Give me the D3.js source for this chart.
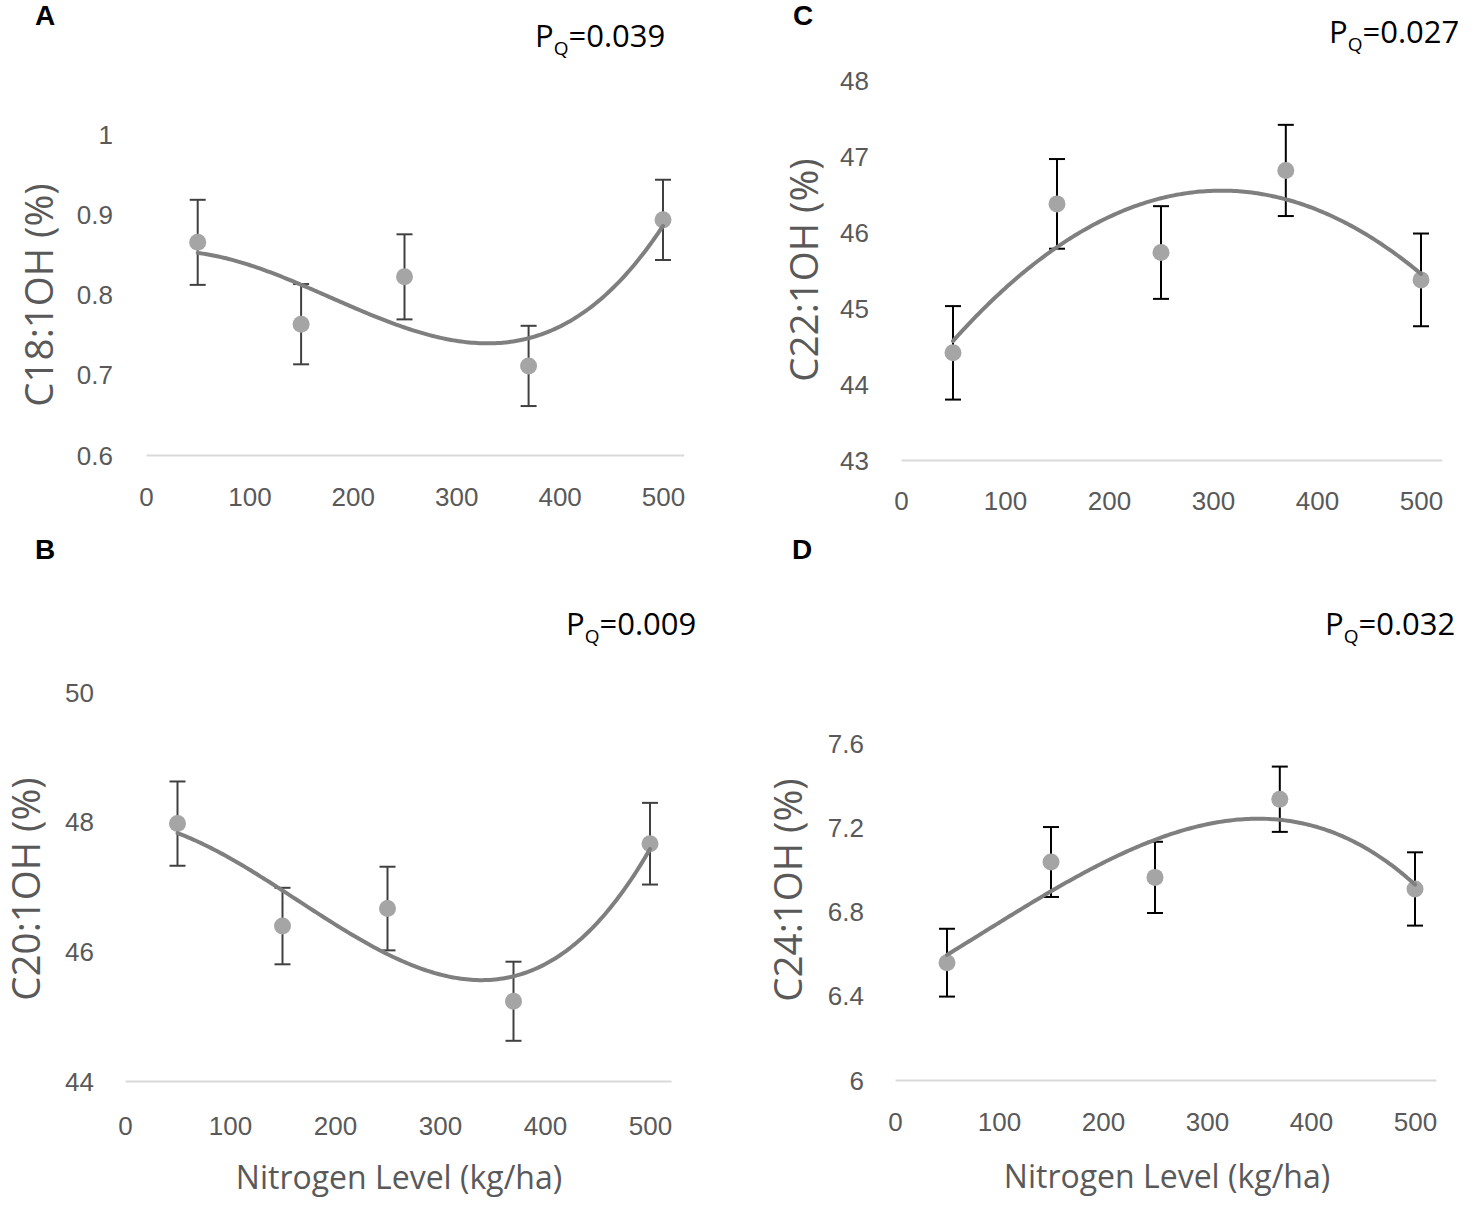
<!DOCTYPE html>
<html>
<head>
<meta charset="utf-8">
<script src="https://cdn.jsdelivr.net/npm/d3@7"></script>
<style>
  body { margin: 0; background: #fff; }
  svg { display: block; }
</style>
</head>
<body>
<div id="chart"></div>
<script>
// nitrogen levels (kg/ha)
var nitrogen = [50, 150, 250, 370, 500];
var xTicks = [0, 100, 200, 300, 400, 500];

// means and error bar half-widths
var c18Mean = [0.865, 0.763, 0.822, 0.711, 0.893];
var c18Err = [0.053, 0.05, 0.053, 0.05, 0.05];
var c20Mean = [47.97, 46.39, 46.66, 45.23, 47.66];
var c20Err = [0.65, 0.59, 0.645, 0.61, 0.63];
var c22Mean = [44.41, 46.37, 45.73, 46.81, 45.37];
var c22Err = [0.615, 0.59, 0.61, 0.6, 0.61];
var c24Mean = [6.557, 7.035, 6.962, 7.333, 6.907];
var c24Err = [0.161, 0.166, 0.169, 0.155, 0.174];

var c18Ticks = [0.6, 0.7, 0.8, 0.9, 1];
var c20Ticks = [44, 46, 48, 50];
var c22Ticks = [43, 44, 45, 46, 47, 48];
var c24Ticks = [6, 6.4, 6.8, 7.2, 7.6];

var panelLetters = ["A", "B", "C", "D"];
var yTitles = ["C18:1OH (%)", "C20:1OH (%)", "C22:1OH (%)", "C24:1OH (%)"];
var pValues = ["0.039", "0.009", "0.027", "0.032"];
var xTitle = "Nitrogen Level (kg/ha)";

var width = 1476,
  height = 1208;

// where each panel sits on the page
var layout = [
  { x0: 146, x1: 683.7, yb: 455, yt: 134, tickRight: 113, xTickY: 497,
    yTitle: [40, 295], letter: [35, 25], pq: [535, 47], xTitle: null, errColor: "#404040" },
  { x0: 125, x1: 671, yb: 1081, yt: 692, tickRight: 94, xTickY: 1126,
    yTitle: [27, 889], letter: [35, 559], pq: [566, 635], xTitle: [399, 1178], errColor: "#404040" },
  { x0: 901, x1: 1441.8, yb: 460, yt: 80, tickRight: 869, xTickY: 501,
    yTitle: [805, 270], letter: [793, 25], pq: [1329, 43], xTitle: null, errColor: "#000" },
  { x0: 895, x1: 1435.8, yb: 1080, yt: 743, tickRight: 864, xTickY: 1122,
    yTitle: [789, 890], letter: [792, 559], pq: [1325, 635], xTitle: [1167, 1177], errColor: "#000" }
];

var panels = [
  { mean: c18Mean, err: c18Err, ticks: c18Ticks, domain: [0.6, 1], degree: 3 },
  { mean: c20Mean, err: c20Err, ticks: c20Ticks, domain: [44, 50], degree: 3 },
  { mean: c22Mean, err: c22Err, ticks: c22Ticks, domain: [43, 48], degree: 2 },
  { mean: c24Mean, err: c24Err, ticks: c24Ticks, domain: [6, 7.6], degree: 3 }
];

// least squares polynomial trend, like the spreadsheet trendline
function polyfit(xs, ys, deg) {
  var n = deg + 1;
  var m = [];
  for (var r = 0; r < n; r++) {
    m.push([]);
    for (var c = 0; c <= n; c++) m[r].push(0);
  }
  xs.forEach(function(xv, i) {
    var u = xv / 100;
    for (var r = 0; r < n; r++) {
      for (var c = 0; c < n; c++) m[r][c] += Math.pow(u, r + c);
      m[r][n] += ys[i] * Math.pow(u, r);
    }
  });
  for (var k = 0; k < n; k++) {
    var p = k;
    for (var r = k + 1; r < n; r++) if (Math.abs(m[r][k]) > Math.abs(m[p][k])) p = r;
    var tmp = m[k]; m[k] = m[p]; m[p] = tmp;
    for (var r = k + 1; r < n; r++) {
      var f = m[r][k] / m[k][k];
      for (var c = k; c <= n; c++) m[r][c] -= f * m[k][c];
    }
  }
  var coef = new Array(n);
  for (var r = n - 1; r >= 0; r--) {
    var s = m[r][n];
    for (var c = r + 1; c < n; c++) s -= m[r][c] * coef[c];
    coef[r] = s / m[r][r];
  }
  return function(xv) {
    var u = xv / 100, s = 0;
    for (var i = 0; i < n; i++) s += coef[i] * Math.pow(u, i);
    return s;
  };
}

var svg = d3
  .select("#chart")
  .append("svg")
  .attr("width", width)
  .attr("height", height)
  .style("font-family", "'Open Sans', sans-serif");

panels.forEach(function(p, idx) {
  var L = layout[idx];
  var g = svg.append("g");

  var xScale = d3.scaleLinear().domain([0, 520]).range([L.x0, L.x1]);
  var yScale = d3.scaleLinear().domain(p.domain).range([L.yb, L.yt]);

  // x axis: light baseline + labels
  var xAxis = d3.axisBottom(xScale).tickValues(xTicks).tickSize(0).tickFormat(d3.format("d"));
  var xg = g.append("g").attr("transform", "translate(0," + L.yb + ")").call(xAxis);
  xg.select(".domain").attr("stroke", "#d9d9d9").attr("stroke-width", 2);
  xg.selectAll("text")
    .attr("y", L.xTickY - L.yb)
    .attr("dy", "0.35em")
    .attr("fill", "#595959")
    .style("font-size", "26px");

  // y axis: labels only
  var yAxis = d3
    .axisLeft(yScale)
    .tickValues(p.ticks)
    .tickSize(0)
    .tickPadding(L.x0 - L.tickRight)
    .tickFormat(function(d) { return String(+d.toFixed(2)); });
  var yg = g.append("g").attr("transform", "translate(" + L.x0 + ",0)").call(yAxis);
  yg.select(".domain").remove();
  yg.selectAll("text")
    .attr("dy", "0.35em")
    .attr("fill", "#595959")
    .style("font-size", "26px");

  // error bars
  var bars = g.selectAll(".err").data(nitrogen).enter().append("g").attr("class", "err")
    .attr("stroke", L.errColor).attr("stroke-width", 2);
  bars.append("line")
    .attr("x1", function(d) { return xScale(d); })
    .attr("x2", function(d) { return xScale(d); })
    .attr("y1", function(d, i) { return yScale(p.mean[i] + p.err[i]); })
    .attr("y2", function(d, i) { return yScale(p.mean[i] - p.err[i]); });
  [1, -1].forEach(function(sgn) {
    bars.append("line")
      .attr("x1", function(d) { return xScale(d) - 8; })
      .attr("x2", function(d) { return xScale(d) + 8; })
      .attr("y1", function(d, i) { return yScale(p.mean[i] + sgn * p.err[i]); })
      .attr("y2", function(d, i) { return yScale(p.mean[i] + sgn * p.err[i]); });
  });

  // markers
  g.selectAll(".pt").data(nitrogen).enter().append("circle")
    .attr("cx", function(d) { return xScale(d); })
    .attr("cy", function(d, i) { return yScale(p.mean[i]); })
    .attr("r", 8.5)
    .attr("fill", "#a5a5a5");

  // polynomial trend line
  var fit = polyfit(nitrogen, p.mean, p.degree);
  var samples = d3.range(50, 500.01, 2.5);
  var line = d3.line()
    .x(function(d) { return xScale(d); })
    .y(function(d) { return yScale(fit(d)); });
  g.append("path")
    .datum(samples)
    .attr("d", line)
    .attr("fill", "none")
    .attr("stroke", "#7f7f7f")
    .attr("stroke-width", 4)
    .attr("stroke-linecap", "round");

  // y title
  g.append("text")
    .attr("transform", "translate(" + L.yTitle[0] + "," + L.yTitle[1] + ") rotate(-90)")
    .attr("text-anchor", "middle")
    .attr("dy", "0.35em")
    .attr("fill", "#595959")
    .style("font-size", "38.5px")
    .text(yTitles[idx]);

  // x title (bottom panels)
  if (L.xTitle) {
    g.append("text")
      .attr("x", L.xTitle[0])
      .attr("y", L.xTitle[1])
      .attr("text-anchor", "middle")
      .attr("dy", "0.35em")
      .attr("fill", "#595959")
      .style("font-size", "32px")
      .text(xTitle);
  }

  // panel letter
  g.append("text")
    .attr("x", L.letter[0])
    .attr("y", L.letter[1])
    .attr("fill", "#000")
    .style("font-family", "'Liberation Sans', Arial, sans-serif")
    .style("font-weight", "bold")
    .style("font-size", "28px")
    .text(panelLetters[idx]);

  // P_Q label
  var pq = g.append("text")
    .attr("x", L.pq[0])
    .attr("y", L.pq[1])
    .attr("fill", "#000")
    .style("font-size", "31px");
  pq.append("tspan").text("P");
  pq.append("tspan").attr("dy", 8).style("font-size", "19px").text("Q");
  pq.append("tspan").attr("dy", -8).text("=" + pValues[idx]);
});
</script>
</body>
</html>
